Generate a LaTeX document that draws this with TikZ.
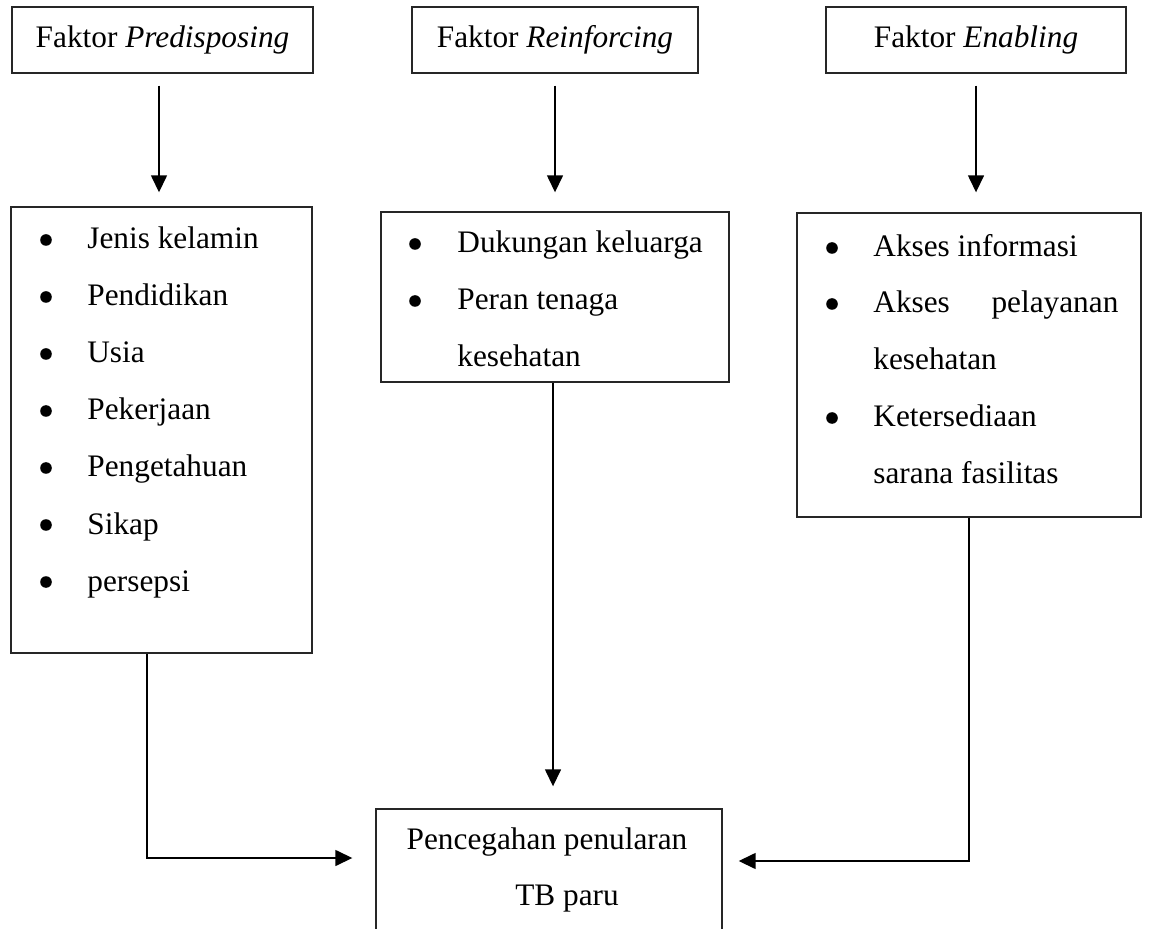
\documentclass[tikz,border=0pt]{standalone}
\usepackage{fontspec}
\setmainfont{Liberation Serif}
\usetikzlibrary{arrows.meta, positioning}

\begin{document}
\begin{tikzpicture}[x=0.5pt, y=-0.5pt,
  font=\fontsize{15.65}{18}\selectfont,
  kotak/.style={draw=black!85, line width=0.7pt, rectangle, inner sep=0pt},
  panah/.style={-{Triangle[length=8.5pt,width=8pt]}, line width=0.75pt},
  titik/.style={circle, fill=black, minimum size=5.8pt, inner sep=0pt},
  isi/.style={anchor=base west, inner sep=0pt}]
\useasboundingbox (0,0) rectangle (1149,929);
\node[kotak, minimum width=150.5pt, minimum height=33pt] (f-pre) at (162.5,40) {Faktor \textit{Predisposing}};
\node[kotak, minimum width=143pt, minimum height=33pt] (f-rei) at (555,40) {Faktor \textit{Reinforcing}};
\node[kotak, minimum width=150pt, minimum height=33pt] (f-ena) at (976,40) {Faktor \textit{Enabling}};
\node[kotak, minimum width=150.5pt, minimum height=223pt] (b-pre) at (161.5,430) {};
\node[kotak, minimum width=174pt, minimum height=85pt] (b-rei) at (555,297) {};
\node[kotak, minimum width=172pt, minimum height=152pt] (b-ena) at (969,365) {};
\node[kotak, minimum width=173pt, minimum height=75.5pt] (cegah) at (549,884.5) {};
\node[inner sep=0pt, anchor=base] (cegah-1) at (547,849) {Pencegahan penularan};
\node[inner sep=0pt, anchor=base] (cegah-2) at (567,905) {TB paru};
\foreach \teks [count=\i] in {Jenis kelamin, Pendidikan, Usia, Pekerjaan, Pengetahuan, Sikap, persepsi}{
  \node[titik] (pre-dot-\i) at (46,240+57*\i-57) {};
  \node[isi] (pre-\i) at (87,249+57*\i-57) {\teks};
};
\foreach \teks [count=\i] in {Dukungan keluarga, Peran tenaga}{
  \node[titik] (rei-dot-\i) at (415,244+57*\i-57) {};
  \node[isi] (rei-\i) at (457,253+57*\i-57) {\teks};
};
\node[isi] (rei-2b) at (457,367) {kesehatan};
\node[titik] (ena-dot-1) at (832,248) {};
\node[isi] (ena-1) at (873,257) {Akses informasi};
\node[titik] (ena-dot-2) at (832,304) {};
\node[isi] (ena-2) at (873,313) {\makebox[122.5pt][s]{Akses pelayanan}};
\node[isi] (ena-2b) at (873,370) {kesehatan};
\node[titik] (ena-dot-3) at (832,418) {};
\node[isi] (ena-3) at (873,427) {Ketersediaan};
\node[isi] (ena-3b) at (873,484) {sarana fasilitas};
\draw[panah, shorten <=6pt, shorten >=7pt] ([xshift=-1.75pt]f-pre.south) -- ([xshift=-1.75pt]f-pre.south |- b-pre.north);
\draw[panah, shorten <=6pt, shorten >=9.5pt] (f-rei.south) -- (f-rei.south |- b-rei.north);
\draw[panah, shorten <=6pt, shorten >=10pt] (f-ena.south) -- (f-ena.south |- b-ena.north);
\draw[panah, shorten >=11.5pt] ([xshift=-7.25pt]b-pre.south) |- ([yshift=13.25pt]cegah.west);
\draw[panah, shorten >=11pt] ([xshift=-1pt]b-rei.south) -- ([xshift=-1pt]b-rei.south |- cegah.north);
\draw[panah, shorten >=8pt] (b-ena.south) |- ([yshift=11.75pt]cegah.east);
\end{tikzpicture}
\end{document}
